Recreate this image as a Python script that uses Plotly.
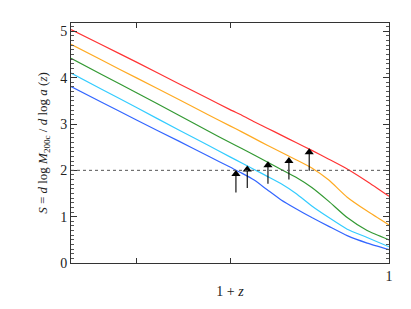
import plotly.graph_objects as go

# 1 + z grid
one_plus_z = [4.0, 3.5, 3.0, 2.5, 2.2, 2.0, 1.9, 1.8, 1.7, 1.6, 1.5, 1.4, 1.3, 1.2, 1.1, 1.0]

S_red    = [5.04, 4.71, 4.33, 3.87, 3.55, 3.31, 3.19, 3.05, 2.91, 2.76, 2.60, 2.43, 2.24, 2.03, 1.76, 1.44]
S_orange = [4.72, 4.38, 3.99, 3.53, 3.20, 2.96, 2.83, 2.69, 2.54, 2.39, 2.23, 2.05, 1.79, 1.42, 1.12, 0.82]
S_green  = [4.42, 4.07, 3.67, 3.19, 2.85, 2.60, 2.47, 2.33, 2.18, 2.02, 1.85, 1.63, 1.33, 0.98, 0.70, 0.50]
S_cyan   = [4.10, 3.75, 3.35, 2.87, 2.54, 2.29, 2.16, 2.02, 1.87, 1.71, 1.50, 1.23, 0.98, 0.73, 0.55, 0.35]
S_blue   = [3.81, 3.47, 3.08, 2.63, 2.31, 2.07, 1.94, 1.79, 1.58, 1.36, 1.17, 0.98, 0.79, 0.59, 0.43, 0.29]

series_names = ["red", "orange", "green", "cyan", "blue"]
series_values = [S_red, S_orange, S_green, S_cyan, S_blue]
series_colors = ["#ff3333", "#ffaa22", "#339933", "#33ccff", "#3366ff"]

# arrows: position (1+z), S at tip and S at tail
arrow_x = [1.949, 1.855, 1.695, 1.547, 1.416]
arrow_tip = [1.99, 2.09, 2.18, 2.27, 2.46]
arrow_tail = [1.52, 1.62, 1.71, 1.80, 1.99]

x_tick_labelled = [1]
x_tick_unlabelled = [2, 3]

S_threshold = 2.0

fig = go.Figure()
for name, vals, col in zip(series_names, series_values, series_colors):
    fig.add_trace(go.Scatter(x=one_plus_z, y=vals, mode="lines", name=name,
                             line=dict(color=col, width=1.2, shape="spline", smoothing=0.5),
                             showlegend=False))

fig.add_shape(type="line", xref="paper", yref="y", x0=0, x1=1, y0=S_threshold, y1=S_threshold,
              line=dict(color="#555555", width=1, dash="dot"))

# arrow shafts
for xa, tip, tail in zip(arrow_x, arrow_tip, arrow_tail):
    fig.add_trace(go.Scatter(x=[xa, xa], y=[tail, tip - 0.08], mode="lines",
                             line=dict(color="#000000", width=1.1), showlegend=False,
                             hoverinfo="skip"))
# arrow heads
fig.add_trace(go.Scatter(x=arrow_x, y=[t - 0.07 for t in arrow_tip], mode="markers",
                         marker=dict(symbol="triangle-up", size=8, color="#000000",
                                     line=dict(width=0)),
                         showlegend=False, hoverinfo="skip"))

font_family = "Liberation Serif"
fig.update_layout(
    width=403, height=301,
    margin=dict(l=63, r=22, t=15, b=46),
    paper_bgcolor="white", plot_bgcolor="white",
    font=dict(family=font_family, size=14, color="#222222"),
)
fig.update_xaxes(type="log", range=[0.60206, 0.0], automargin=False,
                 tickvals=x_tick_labelled, ticktext=["1"],
                 ticks="inside", ticklen=5, tickwidth=1, tickcolor="#333333",
                 minor=dict(tickvals=x_tick_unlabelled, ticks="inside", ticklen=5,
                            tickcolor="#333333", showgrid=False),
                 showline=True, linecolor="#333333", linewidth=1, mirror="ticks",
                 showgrid=False, zeroline=False,
                 tickfont=dict(family=font_family, size=14),
                 title=dict(text="1 + <i>z</i>", font=dict(family=font_family, size=14), standoff=3))
fig.update_yaxes(range=[0, 5.18], tickvals=[0, 1, 2, 3, 4, 5], automargin=False,
                 ticks="inside", ticklen=6, tickwidth=1, tickcolor="#333333",
                 minor=dict(dtick=0.1, ticks="inside", ticklen=3, tickcolor="#555555"),
                 showline=True, linecolor="#333333", linewidth=1, mirror="ticks",
                 showgrid=False, zeroline=False,
                 tickfont=dict(family=font_family, size=14),
                 title=dict(text="<i>S</i> = <i>d</i> log <i>M</i><sub>200c</sub> / <i>d</i> log <i>a</i> (<i>z</i>)",
                            font=dict(family=font_family, size=13), standoff=9))

fig.write_html("out.html")
